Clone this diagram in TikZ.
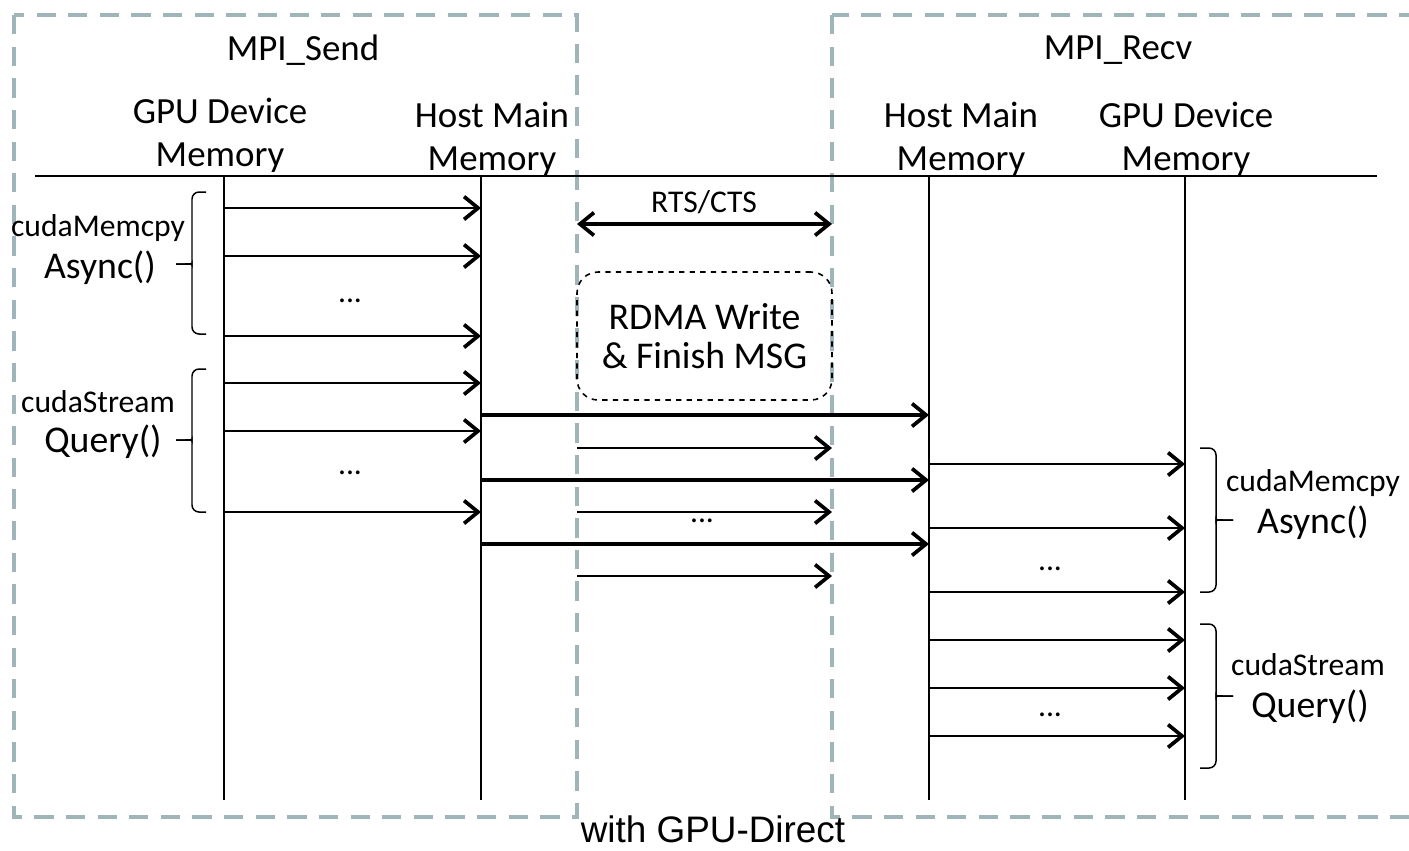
\documentclass[tikz,border=0pt]{standalone}
\usepackage{fontspec}
\setmainfont{Carlito}
\newfontfamily\captionfont{Liberation Sans}
\usetikzlibrary{arrows.meta}
\definecolor{frame}{RGB}{160,181,185}
\tikzset{
  region/.style={draw=frame, line width=2.8pt, dash pattern=on 11pt off 7pt},
  life/.style={draw=black, line width=0.85pt},
  tip/.tip={Straight Barb[length=8pt,width=13pt,line width=2.1pt]},
  msg/.style={draw=black, line width=1.3pt, -tip},
  bigmsg/.style={draw=black, line width=1.8pt, -tip},
  head/.style={font=\fontsize{21}{24.4}\selectfont, align=center, inner sep=0pt},
  small/.style={font=\fontsize{18}{21}\selectfont, inner sep=0pt},
  mid/.style={font=\fontsize{21.5}{25}\selectfont, inner sep=0pt},
  dots/.style={font=\fontsize{18}{21}\selectfont, inner sep=0pt},
  bracket/.style={draw=black, line width=0.85pt, rounded corners=4pt},
}
\begin{document}
\begin{tikzpicture}[x=0.02cm, y=-0.02cm]
\useasboundingbox (0,0) rectangle (1409,850);

% sender and receiver regions
\draw[region] (14,15) rectangle (577,817);
\begin{scope}
  \clip (0,0) rectangle (1409,850);
  \draw[region] (832,15) rectangle (1430,817);
\end{scope}

% titles
\node[head] (send) at (303,50) {MPI\_Send};
\node[head] (recv) at (1118,50) {MPI\_Recv};
\node[head] (sgpu) at (220,135) {GPU Device\\Memory};
\node[head] (shost) at (492,139) {Host Main\\Memory};
\node[head] (rhost) at (961,139) {Host Main\\Memory};
\node[head] (rgpu) at (1186,139) {GPU Device\\Memory};

% header rule
\coordinate (ruleL) at (35,176);
\coordinate (ruleR) at (1377,176);
\draw[life] (ruleL) -- (ruleR);

% lifelines
\foreach \n/\x in {sg/224, sh/481, rh/929, rg/1185} {
  \coordinate (\n T) at (\x,176);
  \coordinate (\n B) at (\x,800);
  \draw[life] (\n T) -- (\n B);
}

% sender: device to host copies and queries
\foreach \y in {208,256,336,383,431,512} {
  \coordinate (sa\y) at (224,\y);
  \coordinate (sb\y) at (481,\y);
  \draw[msg] (sa\y) -- (sb\y);
}
\node[dots] (d1) at (350,301) {...};
\node[dots] (d2) at (350,473) {...};

% host to host transfers
\foreach \y in {415,480,544} {
  \coordinate (ha\y) at (481,\y);
  \coordinate (hb\y) at (929,\y);
  \draw[bigmsg] (ha\y) -- (hb\y);
}

% network messages
\coordinate (rtsL) at (577,224);
\coordinate (rtsR) at (832,224);
\draw[bigmsg, tip-tip] (rtsL) -- (rtsR);
\node[small] (rts) at (704,202) {RTS/CTS};
\node[draw, dashed, line width=0.9pt, rounded corners=12pt, minimum width=255*0.02cm, minimum height=128*0.02cm, align=center, font=\fontsize{21.5}{22}\selectfont] (rdma) at (704.5,336) {RDMA Write\\\& Finish MSG};
\foreach \y in {448,512,576} {
  \coordinate (na\y) at (577,\y);
  \coordinate (nb\y) at (832,\y);
  \draw[msg] (na\y) -- (nb\y);
}
\node[dots] (d3) at (702,521) {...};

% receiver: host to device copies and queries
\foreach \y in {464,528,592,640,688,736} {
  \coordinate (ra\y) at (929,\y);
  \coordinate (rb\y) at (1185,\y);
  \draw[msg] (ra\y) -- (rb\y);
}
\node[dots] (d4) at (1050,569) {...};
\node[dots] (d5) at (1050,715) {...};

% brackets on the sender side (opening to the right)
\coordinate (b1t) at (206,192); \coordinate (b1b) at (206,334); \coordinate (b1m) at (176,264);
\draw[bracket] (b1t) -| (192,258) .. controls (192,264) .. (b1m);
\draw[bracket] (b1m) .. controls (192,264) .. (192,270) |- (b1b);
\coordinate (b2t) at (206,369); \coordinate (b2b) at (206,512); \coordinate (b2m) at (176,440);
\draw[bracket] (b2t) -| (192,434) .. controls (192,440) .. (b2m);
\draw[bracket] (b2m) .. controls (192,440) .. (192,446) |- (b2b);
\node[small] (l1a) at (98,228) {cudaMemcpy};
\node[mid] (l1b) at (100,268) {Async()};
\node[small] (l2a) at (98,402) {cudaStream};
\node[mid] (l2b) at (103,442) {Query()};

% brackets on the receiver side (opening to the left)
\coordinate (b3t) at (1200,448); \coordinate (b3b) at (1200,592); \coordinate (b3m) at (1233,520);
\draw[bracket] (b3t) -| (1216,514) .. controls (1216,520) .. (b3m);
\draw[bracket] (b3m) .. controls (1216,520) .. (1216,526) |- (b3b);
\coordinate (b4t) at (1200,624); \coordinate (b4b) at (1200,768); \coordinate (b4m) at (1233,696);
\draw[bracket] (b4t) -| (1216,690) .. controls (1216,696) .. (b4m);
\draw[bracket] (b4m) .. controls (1216,696) .. (1216,702) |- (b4b);
\node[small] (r1a) at (1313,483) {cudaMemcpy};
\node[mid] (r1b) at (1313,523) {Async()};
\node[small] (r2a) at (1308,665) {cudaStream};
\node[mid] (r2b) at (1310,707) {Query()};

% caption
\node[inner sep=0pt, anchor=base, font=\captionfont\fontsize{21}{25}\selectfont] (cap) at (713,842) {with GPU-Direct};
\end{tikzpicture}
\end{document}
